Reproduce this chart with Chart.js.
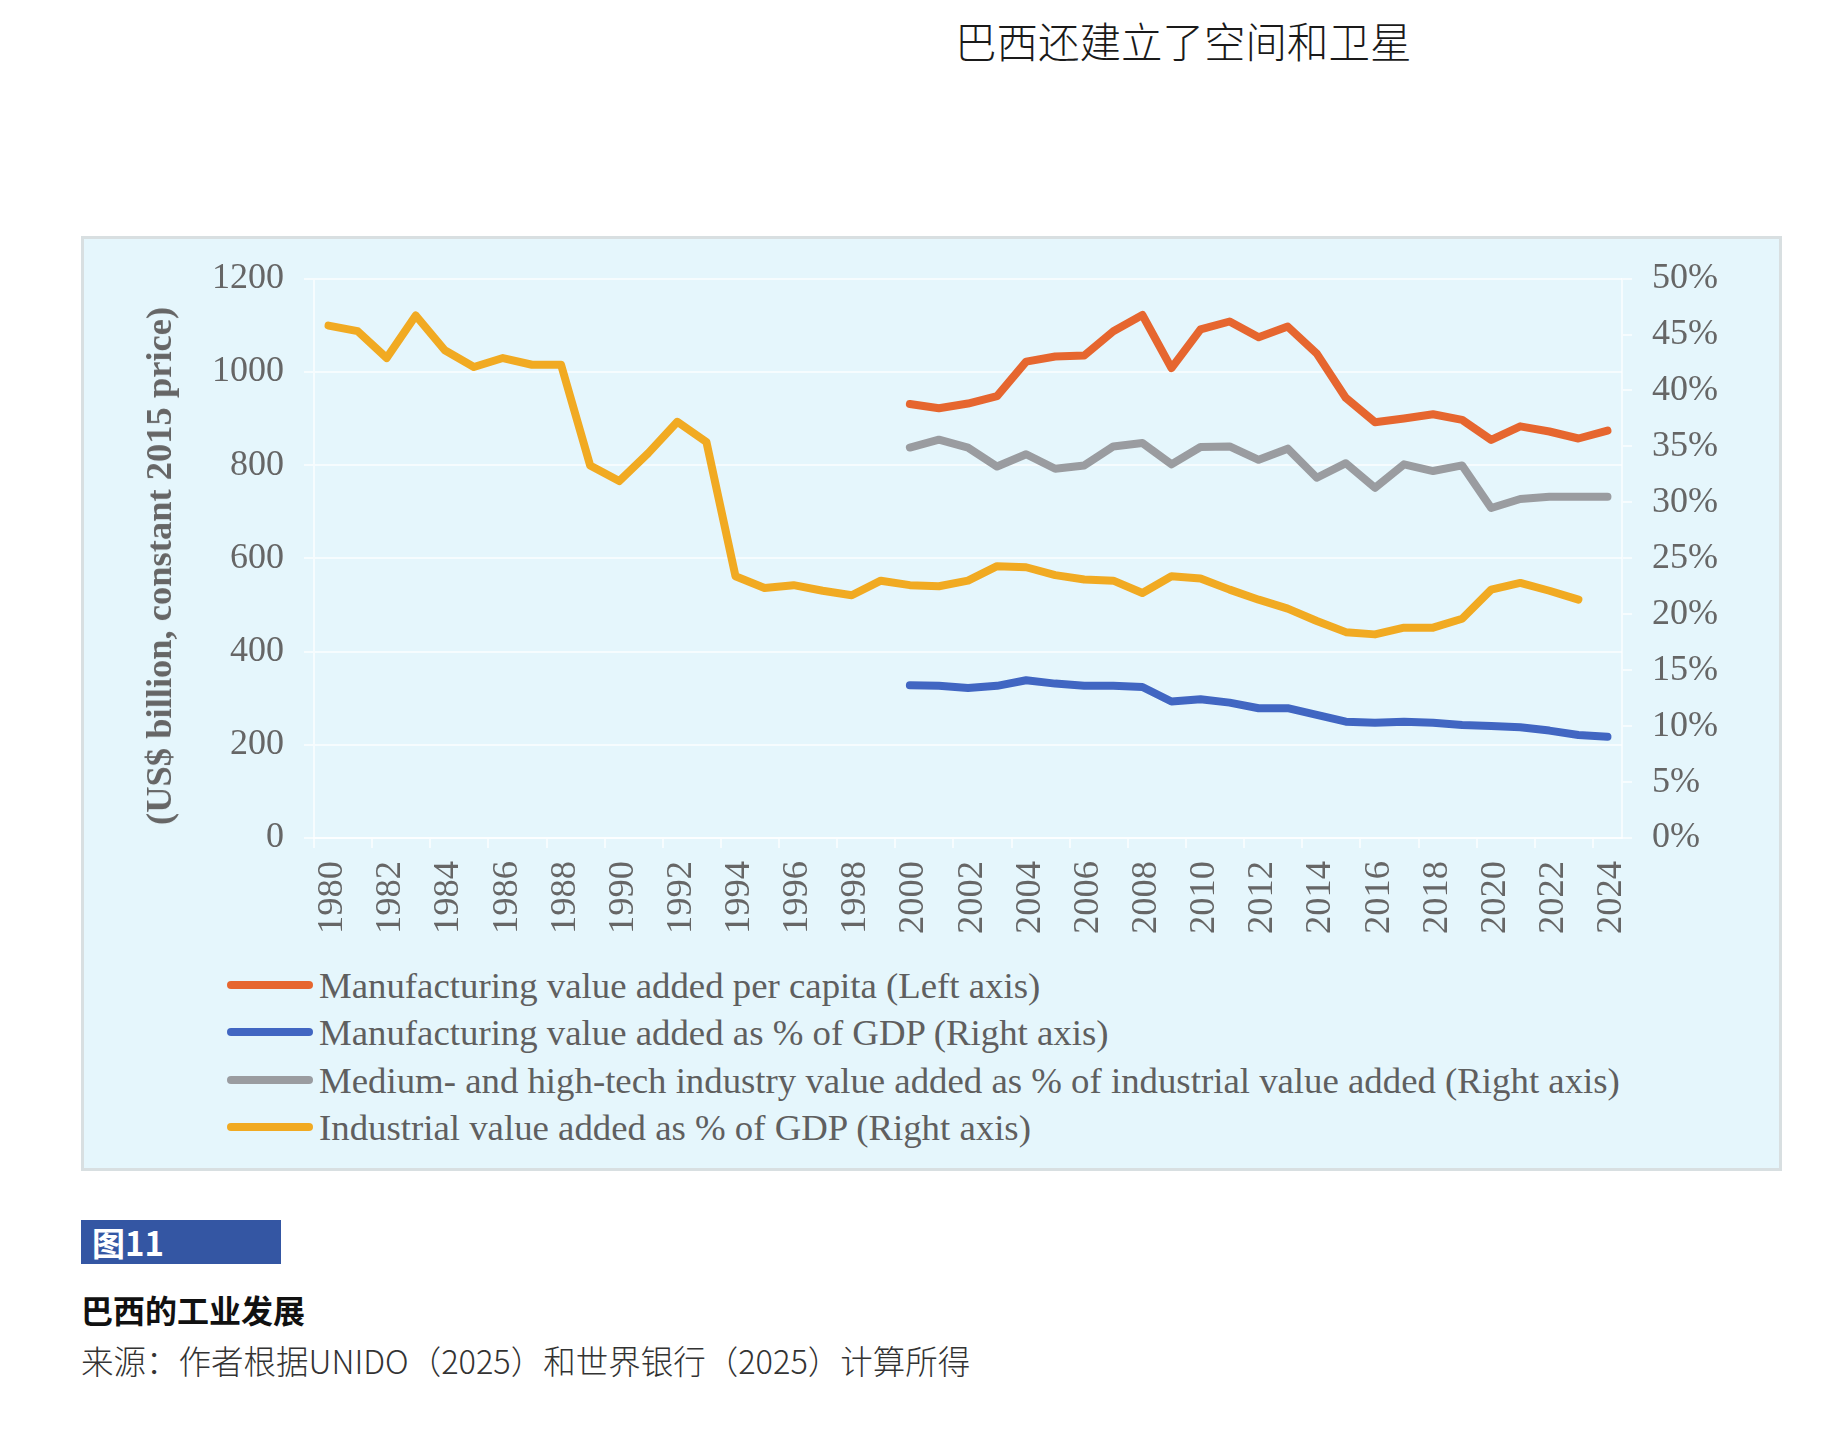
<!DOCTYPE html>
<html>
<head>
<meta charset="utf-8">
<script src="https://cdn.jsdelivr.net/npm/chart.js@4"></script>
<style>
html,body{margin:0;padding:0;background:#fff;}
body{width:1836px;height:1430px;position:relative;overflow:hidden;font-family:"Noto Sans CJK SC",sans-serif;}
#title{position:absolute;left:955px;top:15px;font-size:41.5px;line-height:50px;font-weight:300;color:#1a1a1a;white-space:nowrap;}
#panel{position:absolute;left:81px;top:236px;width:1701px;height:935px;box-sizing:border-box;border:3px solid #d8dfe1;background:#e5f6fc;}
#wrap{position:absolute;left:82px;top:237px;width:1699px;height:700px;}
#ytitle{position:absolute;left:159px;top:566px;transform:translate(-50%,-50%) rotate(-90deg);white-space:nowrap;font-family:"Liberation Serif",serif;font-weight:bold;font-size:36.5px;line-height:44px;color:#666;}
.leg{position:absolute;left:227px;height:44px;display:flex;align-items:center;white-space:nowrap;font-family:"Liberation Serif",serif;font-size:36.8px;color:#5f5f5f;}
.leg .sw{display:inline-block;width:86px;height:8px;border-radius:4px;margin-right:6px;}
#fig{position:absolute;left:81px;top:1220px;width:200px;height:44px;background:#3456a3;color:#fff;font-weight:700;font-size:33px;line-height:44px;padding-left:11px;box-sizing:border-box;}
#cap{position:absolute;left:81px;top:1288px;font-size:32px;font-weight:700;color:#111;line-height:42px;white-space:nowrap;}
#src{position:absolute;left:81px;top:1338px;font-size:32.5px;font-weight:300;color:#333;line-height:44px;white-space:nowrap;}
</style>
</head>
<body>
<div id="title">巴西还建立了空间和卫星</div>
<div id="panel"></div>
<div id="wrap"><canvas id="c" width="1699" height="700"></canvas></div>
<div id="ytitle">(US$ billion, constant 2015 price)</div>
<div id="legend"></div>
<div id="fig">图11</div>
<div id="cap">巴西的工业发展</div>
<div id="src">来源：作者根据UNIDO（2025）和世界银行（2025）计算所得</div>
<script>
// Categories (years)
const years = [1980,1981,1982,1983,1984,1985,1986,1987,1988,1989,
               1990,1991,1992,1993,1994,1995,1996,1997,1998,1999,
               2000,2001,2002,2003,2004,2005,2006,2007,2008,2009,
               2010,2011,2012,2013,2014,2015,2016,2017,2018,2019,
               2020,2021,2022,2023,2024];

// Manufacturing value added per capita (left axis), 2000-2024
const mvaPerCapita = [931,922,932,948,1022,1033,1035,1087,1122,1008,
                      1091,1108,1074,1097,1039,944,892,900,909,897,
                      854,883,872,857,874];
// Manufacturing value added as % of GDP (right axis), 2000-2024
const mvaShareGdp = [13.65,13.6,13.4,13.6,14.1,13.8,13.6,13.6,13.5,12.2,
                     12.4,12.1,11.6,11.6,11.0,10.4,10.3,10.4,10.3,10.1,
                     10.0,9.9,9.6,9.2,9.05];
// Medium- and high-tech industry VA as % of industrial VA (right axis), 2000-2024
const mhtShare = [34.9,35.6,34.9,33.2,34.3,33.0,33.3,35.0,35.3,33.4,
                  34.95,35.0,33.8,34.8,32.2,33.5,31.3,33.4,32.8,33.3,
                  29.5,30.3,30.5,30.5,30.5];
// Industrial value added as % of GDP (right axis), 1980-2023
const industryShareGdp = [45.8,45.3,42.9,46.7,43.6,42.1,42.9,42.3,42.3,33.3,
                          31.9,34.4,37.2,35.4,23.4,22.35,22.6,22.1,21.7,23.0,
                          22.6,22.5,23.0,24.3,24.2,23.5,23.1,23.0,21.9,23.4,
                          23.2,22.2,21.3,20.5,19.4,18.4,18.2,18.8,18.8,19.6,
                          22.2,22.8,22.1,21.3];

// Tick values
const leftTicks = [0,200,400,600,800,1000,1200];
const rightTicks = [0,5,10,15,20,25,30,35,40,45,50];

const seriesNames = [
  'Manufacturing value added per capita (Left axis)',
  'Manufacturing value added as % of GDP (Right axis)',
  'Medium- and high-tech industry value added as % of industrial value added (Right axis)',
  'Industrial value added as % of GDP (Right axis)'
];
const seriesColors = ['#e6662f','#4166c2','#9a9ca0','#f1aa22'];

// align series to the year categories
function alignTo(startYear, values){
  return years.map(y => {
    const i = y - startYear;
    return (i >= 0 && i < values.length) ? values[i] : null;
  });
}

const gridColor = 'rgba(255,255,255,0.65)';
Chart.defaults.font.family = '"Liberation Serif", serif';

const datasets = [
  {label: seriesNames[0], data: alignTo(2000, mvaPerCapita), yAxisID: 'y', borderColor: seriesColors[0]},
  {label: seriesNames[1], data: alignTo(2000, mvaShareGdp), yAxisID: 'y1', borderColor: seriesColors[1]},
  {label: seriesNames[2], data: alignTo(2000, mhtShare), yAxisID: 'y1', borderColor: seriesColors[2]},
  {label: seriesNames[3], data: alignTo(1980, industryShareGdp), yAxisID: 'y1', borderColor: seriesColors[3]}
].map(d => Object.assign(d, {borderWidth: 8, pointRadius: 0, tension: 0, fill: false, spanGaps: false,
  borderJoinStyle: 'round', borderCapStyle: 'round'}));

new Chart(document.getElementById('c'), {
  type: 'line',
  data: {labels: years.map(String), datasets: datasets},
  options: {
    responsive: false,
    animation: false,
    layout: {padding: {top: 38, left: 0, right: 0, bottom: 0}},
    plugins: {legend: {display: false}, tooltip: {enabled: false}},
    scales: {
      x: {
        offset: true,
        grid: {offset: true, drawOnChartArea: false, tickLength: 10, lineWidth: 2,
               color: c => (c.index % 2 === 0 ? gridColor : 'rgba(0,0,0,0)')},
        border: {display: true, color: gridColor, width: 2},
        ticks: {autoSkip: false, minRotation: 90, maxRotation: 90, padding: 13, labelOffset: 4, color: '#666',
                font: {size: 36.5},
                callback: function(v, i){ return i % 2 === 0 ? this.getLabelForValue(v) : ''; }},
        afterFit: s => { s.height = 99; }
      },
      y: {
        position: 'left', min: leftTicks[0], max: leftTicks[leftTicks.length-1],
        afterBuildTicks: s => { s.ticks = leftTicks.map(v => ({value: v})); },
        ticks: {padding: 20, color: '#666', font: {size: 36}, callback: v => String(v)},
        grid: {color: gridColor, lineWidth: 2, tickLength: 10},
        border: {display: true, color: gridColor, width: 2},
        afterFit: s => { s.width = 232; }
      },
      y1: {
        position: 'right', min: rightTicks[0], max: rightTicks[rightTicks.length-1],
        afterBuildTicks: s => { s.ticks = rightTicks.map(v => ({value: v})); },
        ticks: {padding: 20, color: '#666', font: {size: 36}, callback: v => v + '%'},
        grid: {drawOnChartArea: false, tickLength: 10, color: gridColor, lineWidth: 2},
        border: {display: true, color: gridColor, width: 2},
        afterFit: s => { s.width = 159; }
      }
    }
  }
});

// HTML legend built from the series
const legendRows = [985, 1032, 1080, 1127];
const legend = document.getElementById('legend');
seriesNames.forEach((name, i) => {
  const row = document.createElement('div');
  row.className = 'leg';
  row.style.top = (legendRows[i] - 22) + 'px';
  const sw = document.createElement('span');
  sw.className = 'sw';
  sw.style.background = seriesColors[i];
  const t = document.createElement('span');
  t.textContent = name;
  row.appendChild(sw);
  row.appendChild(t);
  legend.appendChild(row);
});
</script>
</body>
</html>
